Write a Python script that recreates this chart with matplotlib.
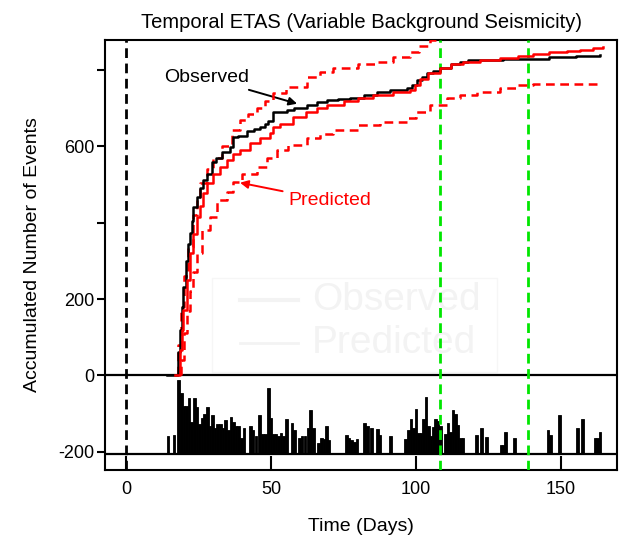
import matplotlib
matplotlib.use("Agg")
import matplotlib.pyplot as plt
from matplotlib.patches import Rectangle

plt.rcParams['font.family'] = ['Liberation Sans', 'DejaVu Sans']

# ---------------- data ----------------
obs_day = [14.0, 17.8, 18.0, 18.5, 19.2, 19.8, 20.7, 21.5, 22.0, 22.6, 23.2, 24.4, 25.5, 26.7,
           27.8, 29.6, 31.0, 33.0, 35.9, 37.0, 38.7, 41.6, 44.0, 46.2, 48.0, 49.0, 50.8, 55.4,
           58.0, 62.3, 66.0, 69.2, 73.0, 77.2, 82.0, 86.4, 91.0, 96.8, 98.5, 100.2, 102.0,
           103.7, 106.0, 108.3, 112.0, 115.2, 118.0, 125.0, 130.0, 140.0, 146.0, 155.0, 163.4]
obs_val = [0, 0, 60, 120, 180, 232, 300, 345, 373, 405, 442, 468, 490, 512,
           529, 560, 570, 586, 599, 625, 628, 640, 647, 652, 660, 667, 691, 695,
           700, 708, 716, 722, 724, 726, 735, 743, 748, 752, 760, 774, 783,
           792, 798, 805, 815, 822, 826, 827, 828, 830, 835, 837, 840]

pred_day = [17.0, 18.6, 18.7, 19.2, 19.8, 20.9, 22.0, 23.0, 24.4, 25.5, 26.7, 28.0, 30.1, 32.4,
            34.7, 37.0, 39.3, 42.8, 46.2, 49.7, 50.8, 53.0, 57.7, 62.0, 66.0, 69.2, 75.0, 80.0,
            85.3, 92.0, 98.0, 99.5, 101.4, 104.0, 108.3, 112.0, 116.3, 122.0, 129.0, 135.0,
            140.5, 146.0, 152.0, 156.6, 161.0, 164.6]
pred_val = [0, 0, 66, 120, 171, 250, 320, 370, 416, 445, 477, 503, 529, 547,
            564, 580, 591, 608, 622, 634, 650, 660, 678, 690, 700, 708, 720, 727,
            735, 742, 748, 762, 778, 792, 805, 815, 822, 827, 831, 837,
            842, 848, 851, 853, 857, 860]

upper_day = [17.9, 18.0, 19.0, 20.0, 21.5, 23.0, 24.4, 25.5, 27.8, 30.1, 33.0, 36.4, 39.3, 42.0,
             45.0, 48.0, 50.8, 55.0, 62.3, 67.0, 71.5, 80.0, 86.4, 92.0, 98.0, 101.0, 104.8,
             108.0, 120.0, 140.0, 165.0]
upper_val = [0, 80, 180, 260, 337, 420, 468, 505, 540, 570, 600, 643, 669, 685,
             700, 720, 739, 755, 783, 795, 805, 815, 822, 835, 848, 862, 880,
             895, 920, 945, 960]

lower_day = [18.9, 19.0, 20.0, 21.0, 22.0, 23.0, 24.4, 26.1, 29.0, 31.3, 34.7, 37.0, 39.9, 45.0,
             48.5, 52.0, 56.0, 62.3, 67.0, 71.5, 80.0, 87.6, 96.8, 100.0, 104.8, 110.6, 115.0,
             121.0, 129.0, 135.0, 140.5, 162.3]
lower_val = [0, 40, 110, 170, 220, 270, 320, 381, 416, 460, 481, 507, 529, 547,
             569, 591, 605, 621, 632, 643, 655, 665, 674, 690, 708, 726, 735,
             743, 752, 760, 764, 767]

# histogram of event counts (bar left edge in days, height above baseline)
bar_day = [14.0, 16.1,
           17.7, 18.6, 19.5, 20.4, 21.3, 22.2, 23.1, 24.0, 24.9, 25.8, 26.7, 27.6, 28.5, 29.4,
           30.3, 31.2, 32.1, 33.0, 33.9, 34.8, 35.7, 36.6, 37.5, 38.4, 39.3, 40.2,
           42.4, 43.4, 44.4, 45.5, 46.6, 47.6, 48.7, 49.5, 50.4, 51.3, 52.2, 53.0, 53.9, 54.8,
           56.8, 57.7, 59.4, 60.3, 61.3, 62.3, 63.2, 64.2, 66.0, 66.9, 67.8, 68.6, 69.4,
           75.6, 76.5, 77.4, 78.3, 79.2, 81.8, 82.8, 84.3, 86.2, 87.0, 90.8,
           96.0, 96.9, 97.8, 98.7, 99.6, 100.5, 101.3, 102.1, 103.0, 103.9, 104.7, 105.5,
           106.3, 107.1, 108.0, 109.7, 110.6, 111.4, 112.3, 113.1, 114.0, 114.9, 115.7,
           120.3, 122.1, 123.8, 128.8, 129.5, 130.3, 133.6, 145.0, 145.9, 149.1, 155.2,
           156.9, 161.2, 162.1, 163.0]
bar_val = [48, 50,
           194, 159, 127, 127, 147, 85, 147, 124, 78, 93, 104, 124, 72, 102,
           69, 78, 78, 67, 89, 63, 98, 85, 72, 72, 43, 69,
           72, 63, 47, 102, 52, 52, 174, 93, 52, 52, 48, 54, 48, 92,
           80, 62, 42, 48, 48, 68, 115, 68, 30, 42, 40, 72, 37,
           50, 42, 36, 32, 40, 80, 74, 68, 66, 51, 46,
           39, 64, 91, 67, 118, 55, 55, 91, 148, 72, 48, 71,
           92, 86, 74, 52, 82, 57, 115, 105, 76, 42, 42,
           50, 69, 45, 24, 24, 57, 42, 64, 51, 103, 68,
           92, 42, 42, 57]
hist_base = -206

xticks = [0, 50, 100, 150]
yticks = [-200, 0, 200, 400, 600, 800]
ytick_labels = ['-200', '0', '200', '', '600', '']
main_shock_day = 0
window_days = [108.3, 138.6]
legend_labels = ['Observed', 'Predicted']

# ---------------- figure ----------------
fig = plt.figure(figsize=(6.22, 5.37), dpi=100)
ax = fig.add_axes([0.169, 0.1248, 0.823, 0.8007])

ax.set_xlim(-7.2, 169.3)
ax.set_ylim(-248, 879)

# ghost legend (nearly white), placed in axes-fraction coordinates
ghost = '#f3f3f3'
ax.add_patch(Rectangle((0.209, 0.228), 0.557, 0.219, transform=ax.transAxes,
                       facecolor='none', edgecolor='#f6f6f6', lw=1.0, zorder=1))
for yy, lw, lab in zip([0.395, 0.295], [3.0, 2.0], legend_labels):
    ax.plot([0.264, 0.377], [yy, yy], transform=ax.transAxes, color=ghost, lw=lw, zorder=1)
    ax.text(0.404, yy, lab, transform=ax.transAxes, fontsize=28, color=ghost,
            va='center', ha='left', zorder=1)

# histogram
ax.bar(bar_day, bar_val, width=0.9, bottom=hist_base, align='edge', color='black',
       edgecolor='black', linewidth=0.6, zorder=2)

# horizontal dividers
ax.axhline(0, color='black', lw=1.6, zorder=3)
ax.axhline(hist_base, color='black', lw=1.6, zorder=3)

# vertical dashed lines
ax.axvline(main_shock_day, color='black', lw=2.0, dashes=(3.5, 2), zorder=4)
for d in window_days:
    ax.axvline(d, color='#00e600', lw=2.0, dashes=(3.5, 2), zorder=4)

# curves
ax.step(lower_day, lower_val, where='post', color='#ff0000', lw=1.8, dashes=(3.5, 2.2), zorder=5)
ax.step(upper_day, upper_val, where='post', color='#ff0000', lw=1.8, dashes=(3.5, 2.2), zorder=5)
ax.step(obs_day, obs_val, where='post', color='black', lw=1.8, zorder=6)
ax.step(pred_day, pred_val, where='post', color='#ff0000', lw=1.8, zorder=7)

# annotations
ax.annotate('Observed', xy=(59.0, 712), xytext=(13.3, 780), fontsize=14, color='black',
            va='center', ha='left',
            arrowprops=dict(arrowstyle='-|>', color='black', lw=1.4, mutation_scale=12,
                            shrinkA=2, shrinkB=0))
ax.annotate('Predicted', xy=(39.3, 505), xytext=(55.9, 458), fontsize=14, color='#ff0000',
            va='center', ha='left',
            arrowprops=dict(arrowstyle='-|>', color='#ff0000', lw=1.4, mutation_scale=12,
                            shrinkA=2, shrinkB=0))

# axes styling
for s in ax.spines.values():
    s.set_linewidth(1.5)
ax.set_xticks(xticks)
ax.set_xticklabels([str(t) for t in xticks])
ax.set_yticks(yticks)
ax.set_yticklabels(ytick_labels)
ax.tick_params(axis='x', direction='in', length=10, width=1.5, labelsize=13, pad=8)
ax.tick_params(axis='y', direction='out', length=6, width=1.5, labelsize=13, pad=2)

ax.set_xlabel('Time (Days)', fontsize=14, labelpad=14)
ax.set_ylabel('Accumulated Number of Events', fontsize=14, labelpad=12)
ax.set_title('Temporal ETAS (Variable Background Seismicity)', fontsize=14.5, pad=9)

fig.savefig('out.png', dpi=100)
